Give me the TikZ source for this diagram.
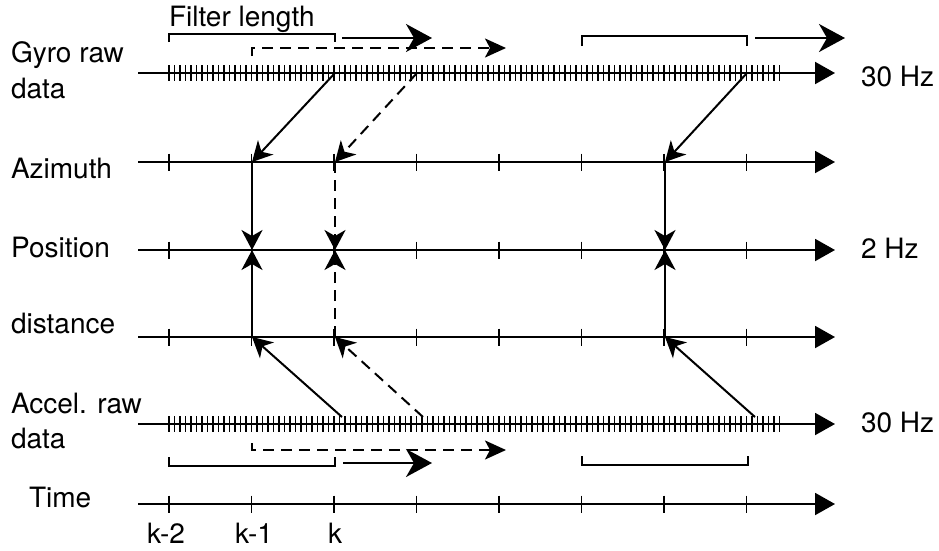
\documentclass[tikz,border=0pt]{standalone}
\usepackage{fontspec}
\setmainfont{TeX Gyre Heros}
\usetikzlibrary{arrows.meta}

\begin{document}
\begin{tikzpicture}[x=1pt, y=-1pt, line width=2pt,
    lbl/.style={anchor=base west, inner sep=0pt, font=\fontsize{28}{34}\selectfont},
    klbl/.style={anchor=base, inner sep=0pt, font=\fontsize{28}{34}\selectfont},
    axis/.style={-{Triangle[length=20pt,width=22pt]}},
    link/.style={-{Stealth[length=20pt,width=21pt,inset=6pt]}},
    slide/.style={-{Stealth[length=26pt,width=28pt,inset=8pt]}},
    dslide/.style={-{Stealth[length=21pt,width=19pt,inset=5pt]}},
    dsh/.style={dash pattern=on 11pt off 7pt}]
    \useasboundingbox (0,0) rectangle (939,550);

    % Axes
    \foreach \name/\y in {gyro/73, azi/162, pos/250, dist/337, acc/424, time/504} {
        \coordinate (\name-start) at (138,\y);
        \coordinate (\name-end) at (835,\y);
        \draw[axis] (\name-start) -- (\name-end);
    }

    % 2 Hz ticks
    \foreach \y in {162, 250, 337, 504}
        \foreach \i in {0,...,7}
            \draw[line width=1.8pt] ({169+\i*82.5},\y-8.5) -- ++(0,17);

    % 30 Hz ticks
    \foreach \y in {73, 424}
        \foreach \i in {0,...,111}
            \draw[line width=1.7pt] ({169+\i*5.5},\y-8) -- ++(0,16);

    % Labels
    \node[lbl] (filter) at (168,26) {Filter length};
    \node[lbl] (gyro-l1) at (10,62) {Gyro raw};
    \node[lbl] (gyro-l2) at (10,98) {data};
    \node[lbl] (azi-l) at (10,178) {Azimuth};
    \node[lbl] (pos-l) at (10,257) {Position};
    \node[lbl] (dist-l) at (10,333) {distance};
    \node[lbl] (acc-l1) at (10,413) {Accel. raw};
    \node[lbl] (acc-l2) at (10,448) {data};
    \node[lbl] (time-l) at (28,507) {Time};
    \node[lbl] (gyro-hz) at (860,86) {30 Hz};
    \node[lbl] (pos-hz) at (860,258) {2 Hz};
    \node[lbl] (acc-hz) at (860,432) {30 Hz};
    \node[klbl] (k2) at (166,543) {k-2};
    \node[klbl] (k1) at (254,543) {k-1};
    \node[klbl] (k0) at (335,543) {k};

    % Points on the axes
    \coordinate (g1) at (335,73);  \coordinate (g2) at (417,73);  \coordinate (g3) at (747,73);
    \coordinate (a1) at (252,162); \coordinate (a2) at (335,162); \coordinate (a3) at (665,162);
    \coordinate (p1) at (252,250); \coordinate (p2) at (335,250); \coordinate (p3) at (665,250);
    \coordinate (d1) at (252,337); \coordinate (d2) at (335,337); \coordinate (d3) at (665,337);
    \coordinate (c1) at (342,417); \coordinate (c2) at (423,417); \coordinate (c3) at (755,417);

    % Filter windows, gyro side
    \draw (169,42) -- (169,34) -- (335,34) -- (335,42);
    \draw[slide] (342,38) -- (432,38);
    \draw[dsh, dslide] (252,56) -- (252,48) -- (506,48);
    \draw (582,46) -- (582,36) -- (747,36) -- (747,46);
    \draw[slide] (755,38) -- (845,38);

    % Filter windows, accel side
    \draw[dsh, dslide] (252,443) -- (252,450) -- (506,450);
    \draw (169,457) -- (169,466) -- (335,466) -- (335,457);
    \draw[slide] (343,463) -- (432,463);
    \draw (582,456) -- (582,465) -- (748,465) -- (748,456);

    % Connections
    \draw[link] (g1) -- (a1);
    \draw[link, dsh] (g2) -- (a2);
    \draw[link] (g3) -- (a3);
    \draw[link] (a1) -- (p1);
    \draw[link, dsh] (a2) -- (p2);
    \draw[link] (a3) -- (p3);
    \draw[link] (d1) -- (p1);
    \draw[link, dsh] (d2) -- (p2);
    \draw[link] (d3) -- (p3);
    \draw[link] (c1) -- (d1);
    \draw[link, dsh] (c2) -- (d2);
    \draw[link] (c3) -- (d3);
\end{tikzpicture}
\end{document}
